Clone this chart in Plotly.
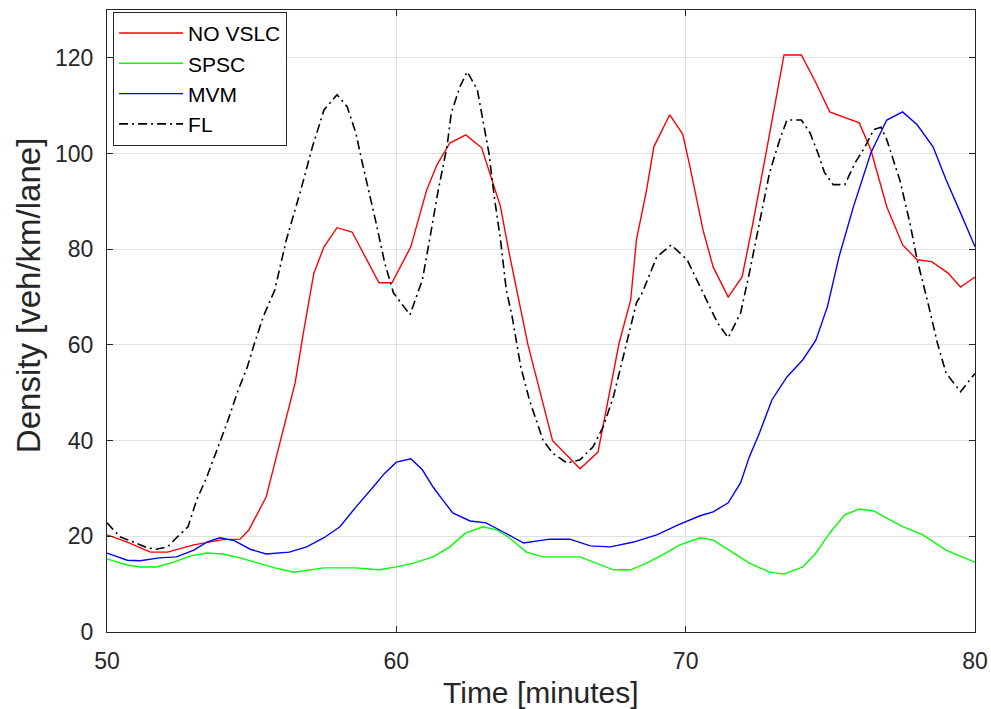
import plotly.graph_objects as go

# Density over time for four control strategies
no_vslc_t = [50, 50.7, 51.5, 52.1, 53.0, 54.0, 54.6, 54.9, 55.5, 56.0,
             56.5, 56.8, 57.15, 57.5, 57.95, 58.47, 59.4, 59.85, 60.5, 61.05,
             61.4, 61.85, 62.4, 62.95, 63.3, 63.6, 63.9, 64.55, 65.4, 66.35,
             66.97, 67.1, 67.7, 68.1, 68.3, 68.65, 68.9, 69.45, 69.9, 70.15,
             70.6, 70.95, 71.47, 71.95, 72.3, 72.8, 73.15, 73.4, 74.0, 74.5,
             74.98, 76.0, 76.4, 76.95, 77.5, 78.0, 78.5, 79.07, 79.5, 80.0]
no_vslc_d = [20.3, 18.8, 16.7, 16.7, 18.2, 19.3, 19.4, 21.3, 28.2, 40.1,
             52, 63, 75, 80.5, 84.5, 83.6, 73, 73, 80.5, 92.4,
             97.6, 102.2, 103.9, 101.2, 94.5, 88.9, 79.2, 60, 40, 34.1,
             37.6, 41.6, 60.4, 69.4, 82, 92.4, 101.4, 108.1, 104, 97.2,
             84, 76.3, 70, 74.2, 84.7, 100.8, 112.7, 120.6, 120.6, 114.8,
             108.7, 106.4, 100.8, 88.9, 80.9, 77.8, 77.4, 75, 72.1, 74.2]

spsc_t = [50, 50.7, 51.15, 51.7, 52.3, 52.9, 53.45, 54.0, 54.6, 55.2,
          55.8, 56.45, 57.5, 58.6, 59.4, 60.0, 60.6, 61.27, 61.85, 62.4,
          63.0, 63.5, 63.9, 64.5, 65.07, 66.35, 66.8, 67.5, 68.1, 68.65,
          69.2, 69.8, 70.5, 70.95, 71.5, 72.2, 72.9, 73.4, 74.05, 74.5,
          74.98, 75.5, 76.0, 76.5, 76.95, 77.5, 78.2, 79.0, 79.9, 80.0]
spsc_d = [15.3, 14, 13.6, 13.6, 14.6, 15.9, 16.5, 16.3, 15.5, 14.4,
          13.4, 12.5, 13.4, 13.4, 13, 13.6, 14.4, 15.7, 17.8, 20.7,
          22, 21.3, 19.7, 16.7, 15.7, 15.7, 14.6, 13, 13, 14.4,
          16.1, 18.2, 19.7, 19.2, 17.1, 14.4, 12.5, 12.1, 13.6, 16.5,
          20.7, 24.5, 25.7, 25.3, 23.8, 22, 20.3, 17.1, 14.8, 14.6]

mvm_t = [50, 50.7, 51.15, 51.8, 52.4, 53.0, 53.45, 53.9, 54.4, 54.95,
         55.5, 56.3, 56.9, 57.5, 58.05, 58.6, 59.2, 59.6, 60.0, 60.5,
         60.9, 61.27, 61.6, 61.95, 62.55, 63.1, 63.7, 64.4, 65.3, 66.0,
         66.7, 67.4, 68.2, 69.0, 69.74, 70.5, 70.95, 71.47, 71.9, 72.2,
         72.55, 72.98, 73.5, 74.05, 74.5, 74.9, 75.3, 75.8, 76.4, 76.95,
         77.5, 78.0, 78.55, 79.0, 79.5, 80.0]
mvm_d = [16.5, 15, 14.9, 15.5, 15.7, 17.1, 18.8, 19.7, 19.1, 17.3,
         16.3, 16.7, 17.8, 19.7, 22, 26.1, 30.3, 33.2, 35.5, 36.2,
         33.9, 30.3, 27.6, 24.9, 23.2, 22.8, 20.9, 18.6, 19.4, 19.4,
         18, 17.8, 18.8, 20.3, 22.4, 24.3, 25.1, 27, 31.2, 36.6,
         41.6, 48.5, 53.3, 56.9, 61, 68, 78.4, 88.9, 100.1, 107,
         108.7, 106, 101.4, 94.5, 87.6, 80.5]

fl_t = [50, 50.45, 51.4, 51.7, 52.1, 52.4, 52.8, 53.1, 53.45, 53.8,
        54.15, 54.5, 54.85, 55.1, 55.4, 55.8, 56.2, 56.7, 57.1, 57.5,
        57.95, 58.3, 58.6, 58.8, 59.05, 59.3, 59.6, 59.9, 60.47, 60.9,
        61.15, 61.45, 61.75, 61.9, 62.2, 62.45, 62.8, 63.0, 63.2, 63.4,
        63.6, 63.8, 64.0, 64.3, 64.6, 65.07, 65.4, 65.9, 66.35, 66.8,
        67.15, 67.5, 67.85, 68.3, 68.5, 69.0, 69.5, 70.05, 70.6, 71.1,
        71.47, 71.9, 72.2, 72.55, 72.9, 73.25, 73.5, 74.0, 74.3, 74.57,
        74.8, 75.1, 75.5, 75.85, 76.2, 76.5, 76.75, 76.95, 77.4, 77.75,
        78.0, 78.35, 78.7, 79.0, 79.5, 79.9, 80.0]
fl_d = [22.8, 19.9, 17.6, 17.3, 17.8, 19.7, 22, 27.6, 32.4, 38,
        43.7, 50, 55.4, 60.4, 65.9, 71.5, 82, 92.4, 101.4, 109.1,
        112.3, 109.8, 104.3, 98.7, 92.4, 85.5, 77.1, 70.9, 66.3, 73.6,
        82, 92.4, 101.4, 108.5, 114, 117.1, 113.3, 106.4, 100.1, 90.3,
        82, 71.5, 66, 55.4, 48.5, 40.1, 37.4, 35.3, 36, 38.7,
        42.9, 49.1, 57.5, 68.8, 70.9, 78.4, 80.9, 77.8, 70.9, 64.6,
        61.5, 66.7, 75, 85.5, 96, 102.9, 107, 107, 104.3, 100.1,
        96, 93.5, 93.5, 98, 101.4, 105, 105.5, 102.9, 94.5, 85.5,
        77.8, 69.4, 60.4, 54.1, 50.2, 53.3, 54]

x_ticks = [50, 60, 70, 80]
y_ticks = [0, 20, 40, 60, 80, 100, 120]

fig = go.Figure()
fig.add_trace(go.Scatter(x=no_vslc_t, y=no_vslc_d, mode="lines", name="NO VSLC",
                         line=dict(color="#ff0000", width=1.4)))
fig.add_trace(go.Scatter(x=spsc_t, y=spsc_d, mode="lines", name="SPSC",
                         line=dict(color="#00ff00", width=1.4)))
fig.add_trace(go.Scatter(x=mvm_t, y=mvm_d, mode="lines", name="MVM",
                         line=dict(color="#0000ff", width=1.4)))
fig.add_trace(go.Scatter(x=fl_t, y=fl_d, mode="lines", name="FL",
                         line=dict(color="#000000", width=1.6, dash="9px,4px,2px,4px")))

axis_common = dict(
    showgrid=True, gridcolor="#e0e0e0", gridwidth=1,
    showline=True, linecolor="#262626", linewidth=1, mirror="ticks",
    ticks="inside", ticklen=6, tickcolor="#262626",
    zeroline=False, tickfont=dict(size=23, color="#262626"),
    ticklabeloverflow="allow", automargin=False,
)

fig.update_layout(
    width=991, height=709,
    margin=dict(l=107, r=16, t=10, b=77, autoexpand=False),
    paper_bgcolor="white", plot_bgcolor="white",
    font=dict(family="Liberation Sans, Arial, sans-serif", size=23, color="#262626"),
    xaxis=dict(range=[50, 80], tickvals=x_ticks, ticklabelstandoff=8, **axis_common),
    yaxis=dict(range=[0, 130], tickvals=y_ticks, ticklabelstandoff=8, **axis_common),
    legend=dict(x=0.007, y=0.997, xanchor="left", yanchor="top",
                bgcolor="white", bordercolor="#262626", borderwidth=1,
                font=dict(size=21, color="#000000"), itemwidth=64,
                tracegroupgap=0),
    showlegend=True,
)

# Axis labels
fig.add_annotation(text="Time [minutes]", xref="paper", yref="paper",
                   x=0.5, y=-0.098, xanchor="center", yanchor="middle",
                   showarrow=False, font=dict(size=30, color="#262626"))
fig.add_annotation(text="Density [veh/km/lane]", xref="paper", yref="paper",
                   x=-0.091, y=0.54, xanchor="center", yanchor="middle",
                   textangle=-90, showarrow=False,
                   font=dict(size=33, color="#262626"))

fig.write_html("out.html")
